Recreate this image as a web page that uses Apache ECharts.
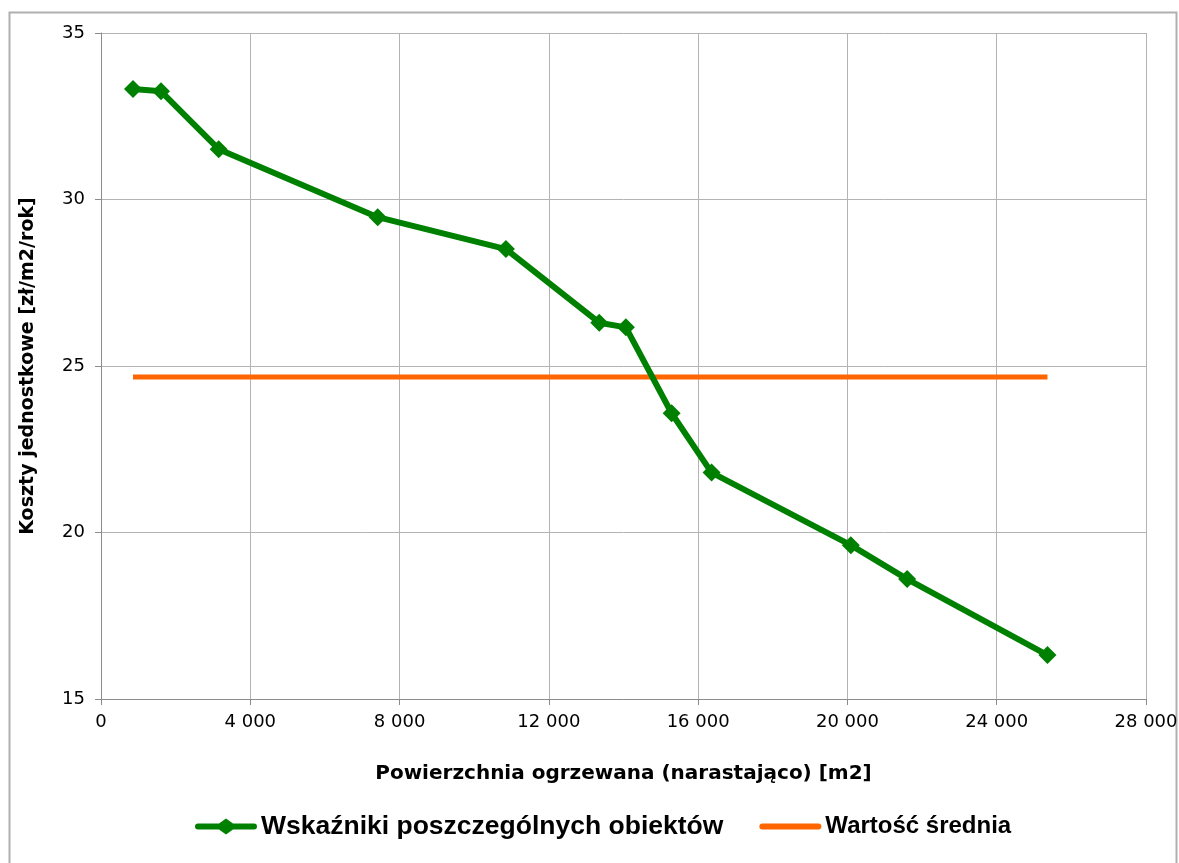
<!DOCTYPE html>
<html>
<head>
<meta charset="utf-8">
<script src="https://cdn.jsdelivr.net/npm/echarts@6/dist/echarts.min.js"></script>
<style>
html,body{margin:0;padding:0;background:#fff;}
#chart{width:1179px;height:863px;}
</style>
</head>
<body>
<div id="chart"></div>
<script>
// Cumulative heated area [m2]
const areaCumulative = [857, 1607, 3154, 7414, 10850, 13350, 14063, 15290, 16360, 20090, 21600, 25360];
// Unit costs of individual buildings [zł/m2/rok]
const unitCosts = [33.32, 33.25, 31.51, 29.47, 28.51, 26.30, 26.16, 23.58, 21.80, 19.62, 18.60, 16.32];
// Average value
const averageValue = 24.67;
const seriesNames = ['Wskaźniki poszczególnych obiektów', 'Wartość średnia'];
const xAxisTitle = 'Powierzchnia ogrzewana (narastająco) [m2]';
const yAxisTitle = 'Koszty jednostkowe [zł/m2/rok]';

const tickFont = '"DejaVu Sans", Verdana, sans-serif';
const titleFont = '"DejaVu Sans", Verdana, sans-serif';
const legendFont = '"Liberation Sans", Arial, sans-serif';

const chart = echarts.init(document.getElementById('chart'));
const option = {
  backgroundColor: '#fff',
  animation: false,
  graphic: [{
    type: 'rect',
    shape: {x: 9.5, y: 12.5, width: 1167, height: 870},
    style: {fill: 'none', stroke: '#b0b0b0', lineWidth: 2},
    silent: true
  }],
  grid: {left: 101, right: 33, top: 33, bottom: 164, outerBoundsMode: 'none', containLabel: false},
  legend: {
    top: 808,
    left: 190,
    itemWidth: 62,
    itemHeight: 16,
    itemGap: 36,
    textStyle: {fontFamily: legendFont, fontWeight: 'bold', fontSize: 24, color: '#000', padding: [0,0,0,-1]},
    data: [
      {name: seriesNames[0], icon: 'path://M3,5 L24,5 L31,0 L38,5 L59,5 Q62,5 62,8 Q62,11 59,11 L38,11 L31,16 L24,11 L3,11 Q0,11 0,8 Q0,5 3,5 Z',
       textStyle: {fontFamily: legendFont, fontWeight: 'bold', fontSize: 26.5, color: '#000', padding: [0,0,0,-1]}},
      {name: seriesNames[1], icon: 'path://M3,5 L59,5 Q62,5 62,8 Q62,11 59,11 L3,11 Q0,11 0,8 Q0,5 3,5 Z',
       textStyle: {fontFamily: legendFont, fontWeight: 'bold', fontSize: 24, color: '#000', padding: [0,0,0,-1]}}
    ]
  },
  xAxis: {
    type: 'value', min: 0, max: 28000, interval: 4000,
    name: xAxisTitle, nameLocation: 'middle', nameGap: 65,
    nameTextStyle: {fontFamily: titleFont, fontWeight: 'bold', fontSize: 20, color: '#000'},
    axisLine: {show: true, lineStyle: {color: '#8c8c8c', width: 1}},
    axisTick: {show: true, length: 6, lineStyle: {color: '#8c8c8c'}},
    axisLabel: {
      margin: 14, fontFamily: tickFont, fontSize: 18, color: '#000',
      formatter: v => String(v).replace(/\B(?=(\d{3})+(?!\d))/g, ' ')
    },
    splitLine: {show: true, lineStyle: {color: '#b3b3b3', width: 1}}
  },
  yAxis: {
    type: 'value', min: 15, max: 35, interval: 5,
    name: yAxisTitle, nameLocation: 'middle', nameGap: 63,
    nameTextStyle: {fontFamily: titleFont, fontWeight: 'bold', fontSize: 19, color: '#000'},
    axisLine: {show: true, lineStyle: {color: '#8c8c8c', width: 1}},
    axisTick: {show: true, length: 6, lineStyle: {color: '#8c8c8c'}},
    axisLabel: {margin: 16, fontFamily: tickFont, fontSize: 18, color: '#000'},
    splitLine: {show: true, lineStyle: {color: '#b3b3b3', width: 1}}
  },
  series: [
    {
      name: seriesNames[1], type: 'line',
      data: areaCumulative.map(x => [x, averageValue]),
      showSymbol: false, symbol: 'none',
      lineStyle: {color: '#ff6600', width: 5},
      itemStyle: {color: '#ff6600'},
      z: 2
    },
    {
      name: seriesNames[0], type: 'line',
      data: areaCumulative.map((x, i) => [x, unitCosts[i]]),
      symbol: 'diamond', symbolSize: 18,
      lineStyle: {color: '#008000', width: 6},
      itemStyle: {color: '#008000'},
      z: 3
    }
  ]
};
chart.setOption(option);
</script>
</body>
</html>
